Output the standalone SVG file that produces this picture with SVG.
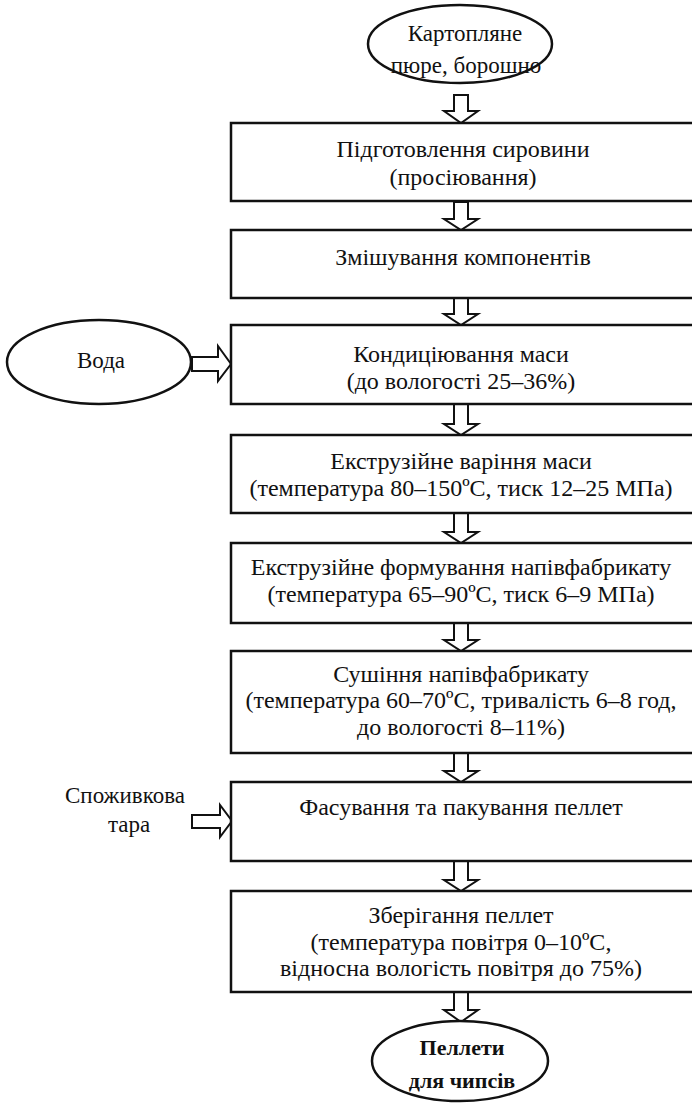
<svg xmlns="http://www.w3.org/2000/svg" width="692" height="1104" viewBox="0 0 692 1104" font-family="'Liberation Serif', 'Times New Roman', serif">
<style>
text{font-family:'Liberation Serif','Times New Roman',serif;font-size:24px;fill:#111;text-anchor:middle}
.box{fill:#fff;stroke:#111;stroke-width:2.5}
.ell{fill:#fff;stroke:#111;stroke-width:2.5}
.arr{fill:#fff;stroke:#111;stroke-width:2;stroke-linejoin:miter}
.small{font-size:23px}
.bold{font-size:22px;font-weight:bold}
</style>
<rect width="692" height="1104" fill="#fff"/>
<g id="connectors">
<polygon class="arr" points="454,95 468,95 468,111 478,111 461,123 444,111 454,111"/>
<polygon class="arr" points="454,202 468,202 468,219 478,219 461,230 444,219 454,219"/>
<polygon class="arr" points="454,298 468,298 468,314 478,314 461,325 444,314 454,314"/>
<polygon class="arr" points="454,404 468,404 468,424 478,424 461,435 444,424 454,424"/>
<polygon class="arr" points="454,513 468,513 468,532 478,532 461,543 444,532 454,532"/>
<polygon class="arr" points="454,623 468,623 468,640 478,640 461,651 444,640 454,640"/>
<polygon class="arr" points="454,753 468,753 468,771 478,771 461,782 444,771 454,771"/>
<polygon class="arr" points="454,861 468,861 468,880 478,880 461,891 444,880 454,880"/>
<polygon class="arr" points="454,992 468,992 468,1010 478,1010 461,1022 444,1010 454,1010"/>
<polygon class="arr" points="192,357 218,357 218,346 231,364 218,381 218,371 192,371"/>
<polygon class="arr" points="192,815 220,815 220,805 232,821 220,837 220,828 192,828"/>
</g>
<g id="n0">
<ellipse class="ell" cx="460" cy="44" rx="92" ry="39"/>
<text class="small" x="465" y="41">Картопляне</text>
<text class="small" x="466" y="73">пюре, борошно</text>
</g>
<g id="n1">
<rect class="box" x="231" y="123" width="470" height="78"/>
<text x="463" y="157">Підготовлення сировини</text>
<text x="463" y="185">(просіювання)</text>
</g>
<g id="n2">
<rect class="box" x="231" y="230" width="470" height="68"/>
<text x="463" y="265">Змішування компонентів</text>
</g>
<g id="n3">
<rect class="box" x="231" y="325" width="470" height="79"/>
<text x="461" y="362">Кондиціювання маси</text>
<text x="461" y="389">(до вологості 25–36%)</text>
</g>
<g id="n4">
<rect class="box" x="231" y="435" width="470" height="78"/>
<text x="461" y="469">Екструзійне варіння маси</text>
<text x="461" y="496">(температура 80–150ºС, тиск 12–25 МПа)</text>
</g>
<g id="n5">
<rect class="box" x="231" y="543" width="470" height="80"/>
<text x="461" y="575">Екструзійне формування напівфабрикату</text>
<text x="461" y="602">(температура 65–90ºС, тиск 6–9 МПа)</text>
</g>
<g id="n6">
<rect class="box" x="231" y="651" width="470" height="102"/>
<text x="461" y="682">Сушіння напівфабрикату</text>
<text x="461" y="708">(температура 60–70ºС, тривалість 6–8 год,</text>
<text x="461" y="735">до вологості 8–11%)</text>
</g>
<g id="n7">
<rect class="box" x="231" y="782" width="470" height="79"/>
<text x="461" y="815">Фасування та пакування пеллет</text>
</g>
<g id="n8">
<rect class="box" x="231" y="891" width="470" height="101"/>
<text x="461" y="923">Зберігання пеллет</text>
<text x="461" y="950">(температура повітря 0–10ºС,</text>
<text x="461" y="976">відносна вологість повітря до 75%)</text>
</g>
<g id="n9">
<ellipse class="ell" cx="460" cy="1061" rx="88" ry="40"/>
<text class="bold" x="462" y="1055">Пеллети</text>
<text class="bold" x="462" y="1088">для чипсів</text>
</g>
<g id="n10">
<ellipse class="ell" cx="99" cy="362" rx="92" ry="42"/>
<text class="small" x="101" y="368">Вода</text>
</g>
<g id="n11">
<text class="small" x="125" y="803">Споживкова</text>
<text class="small" x="129" y="832">тара</text>
</g>
</svg>
